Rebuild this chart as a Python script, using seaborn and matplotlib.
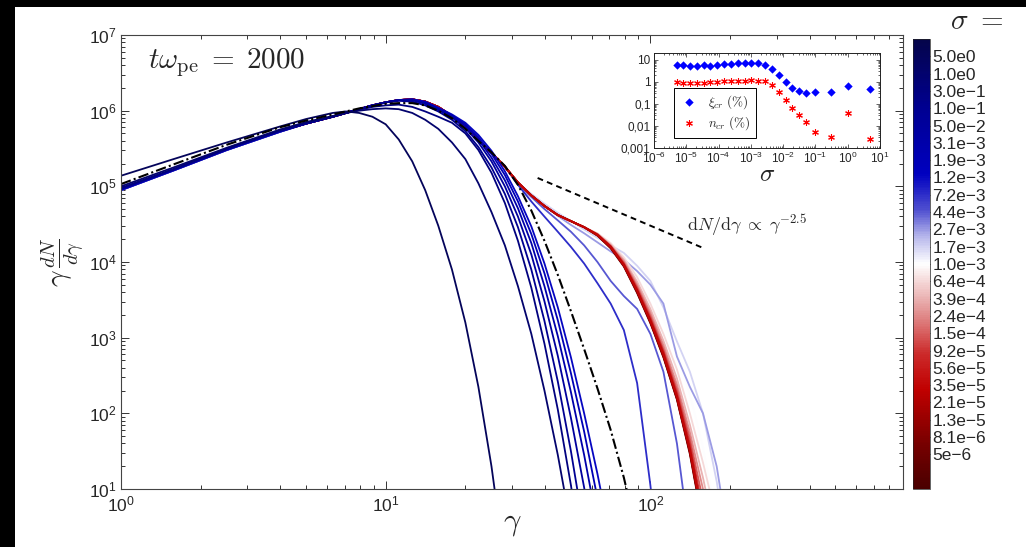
import matplotlib
matplotlib.use("Agg")
import matplotlib.pyplot as plt
from matplotlib.colors import LinearSegmentedColormap, Normalize
from matplotlib.cm import ScalarMappable
from matplotlib.ticker import LogLocator, FuncFormatter, NullFormatter
from matplotlib.patches import Rectangle
import numpy as np
import pandas as pd
import seaborn as sns

# --- data ------------------------------------------------------------------
gamma = [1.0, 1.58, 2.51, 3.98, 5.01, 6.31, 7.08, 7.94, 8.91, 10.0,
         11.2, 12.6, 14.1, 15.8, 17.8, 20.0, 22.4, 25.1, 28.2, 31.6,
         35.5, 39.8, 44.7, 50.1, 56.2, 63.1, 70.8, 79.4, 89.1, 100.0,
         112.0, 126.0, 141.0, 158.0, 178.0, 200.0]

# colorbar labels, top to bottom (as printed in the figure)
sigma_labels = ["5.0e0", "1.0e0", "3.0e-1", "1.0e-1", "5.0e-2", "3.1e-3",
                "1.9e-3", "1.2e-3", "7.2e-3", "4.4e-3", "2.7e-3", "1.7e-3",
                "1.0e-3", "6.4e-4", "3.9e-4", "2.4e-4", "1.5e-4", "9.2e-5",
                "5.6e-5", "3.5e-5", "2.1e-5", "1.3e-5", "8.1e-6", "5e-6"]

# pieces shared by the low-sigma runs (log10 of gamma dN/dgamma)
rise_bundle = [4.96, 5.22, 5.49, 5.73, 5.83, 5.92, 5.97, 6.02, 6.07, 6.11, 6.14]
peak_envelope = [6.15, 6.12, 6.05, 5.93, 5.78, 5.62, 5.44, 5.26]
red_shoulder = [5.05, 4.88, 4.74, 4.62, 4.54, 4.46]

# high-gamma tails of the red runs, from gamma = 63 on
red_tails = {
    "6.4e-4": [4.38, 4.25, 4.06, 3.80, 3.45, 3.05, 2.58, 2.00, 1.35, 0.60],
    "3.9e-4": [4.37, 4.23, 4.03, 3.74, 3.38, 2.96, 2.46, 1.85, 1.15, 0.30],
    "2.4e-4": [4.37, 4.22, 4.01, 3.70, 3.33, 2.90, 2.38, 1.75, 1.00, 0.10],
    "1.5e-4": [4.37, 4.21, 3.99, 3.67, 3.29, 2.85, 2.32, 1.67, 0.85],
    "9.2e-5": [4.36, 4.21, 3.98, 3.65, 3.26, 2.82, 2.27, 1.60, 0.72],
    "5.6e-5": [4.36, 4.20, 3.97, 3.63, 3.24, 2.80, 2.24, 1.55, 0.65],
    "3.5e-5": [4.36, 4.20, 3.96, 3.62, 3.22, 2.78, 2.22, 1.52, 0.60],
    "2.1e-5": [4.36, 4.20, 3.96, 3.62, 3.22, 2.77, 2.21, 1.50, 0.58],
    "1.3e-5": [4.35, 4.19, 3.95, 3.61, 3.21, 2.76, 2.20, 1.49, 0.56],
    "8.1e-6": [4.35, 4.19, 3.95, 3.60, 3.20, 2.75, 2.19, 1.48, 0.55],
    "5e-6":   [4.35, 4.18, 3.94, 3.59, 3.19, 2.74, 2.18, 1.46, 0.52],
}

# blue runs, full rows on the gamma grid
blue_spectra = {
    "5.0e0": [5.14, 5.36, 5.58, 5.79, 5.89, 5.97, 5.99, 5.97, 5.92, 5.82, 5.62,
              5.33, 4.95, 4.48, 3.90, 3.20, 2.35, 1.30, 0.00],
    "1.0e0": [5.00, 5.25, 5.51, 5.75, 5.85, 5.93, 5.97, 6.00, 6.02, 6.03, 6.02,
              5.97, 5.88, 5.76, 5.58, 5.36, 5.04, 4.66, 4.22, 3.68, 3.05, 2.30,
              1.45, 0.50],
    "3.0e-1": [4.98, 5.23, 5.50, 5.74, 5.84, 5.92, 5.97, 6.01, 6.05, 6.07, 6.08,
               6.05, 5.99, 5.92, 5.84, 5.70, 5.48, 5.18, 4.78, 4.28, 3.66, 2.92,
               2.05, 1.05, -0.10],
    "1.0e-1": [4.97, 5.22, 5.49, 5.73, 5.83, 5.92, 5.97, 6.02, 6.07, 6.11, 6.13,
               6.12, 6.07, 5.99, 5.88, 5.73, 5.52, 5.25, 4.90, 4.46, 3.90, 3.22,
               2.42, 1.50, 0.45],
    "5.0e-2": [4.97, 5.22, 5.49, 5.73, 5.83, 5.92, 5.97, 6.02, 6.07, 6.11, 6.14,
               6.14, 6.09, 6.01, 5.91, 5.77, 5.58, 5.33, 5.00, 4.60, 4.10, 3.48,
               2.76, 1.94, 1.02, 0.00],
    "3.1e-3": [4.96, 5.22, 5.49, 5.73, 5.83, 5.92, 5.97, 6.02, 6.07, 6.11, 6.14,
               6.14, 6.10, 6.02, 5.93, 5.80, 5.62, 5.38, 5.08, 4.71, 4.25, 3.68,
               3.02, 2.28, 1.45, 0.52],
    "1.9e-3": [4.96, 5.22, 5.49, 5.73, 5.83, 5.92, 5.97, 6.02, 6.07, 6.11, 6.14,
               6.15, 6.11, 6.03, 5.94, 5.82, 5.65, 5.43, 5.15, 4.80, 4.37, 3.85,
               3.23, 2.53, 1.76, 0.88, -0.10],
    "1.2e-3": [4.95, 5.21, 5.48, 5.72, 5.83, 5.92, 5.97, 6.02, 6.07, 6.11, 6.14,
               6.15, 6.12, 6.04, 5.95, 5.84, 5.68, 5.47, 5.20, 4.87, 4.47, 3.98,
               3.40, 2.74, 2.00, 1.20, 0.32],
    "7.2e-3": [4.95, 5.21, 5.48, 5.72, 5.83, 5.92, 5.97, 6.02, 6.07, 6.11, 6.14,
               6.15, 6.12, 6.05, 5.93, 5.78, 5.62, 5.44, 5.26, 5.02, 4.80, 4.60,
               4.40, 4.20, 3.98, 3.72, 3.45, 3.10, 2.40, 1.05, -0.50],
    "4.4e-3": [4.95, 5.21, 5.48, 5.72, 5.83, 5.92, 5.97, 6.02, 6.07, 6.11, 6.14,
               6.15, 6.12, 6.05, 5.93, 5.78, 5.62, 5.44, 5.26, 5.03, 4.86, 4.70,
               4.55, 4.40, 4.22, 4.00, 3.75, 3.55, 3.38, 3.05, 2.55, 1.60, 0.30],
    "2.7e-3": [4.95, 5.21, 5.48, 5.72, 5.83, 5.92, 5.97, 6.02, 6.07, 6.11, 6.14,
               6.15, 6.12, 6.05, 5.93, 5.78, 5.62, 5.44, 5.26, 5.04, 4.88, 4.74,
               4.61, 4.49, 4.38, 4.26, 4.14, 4.03, 3.88, 3.70, 3.45, 2.75, 2.35,
               2.00, 1.30, 0.20],
    "1.7e-3": [4.95, 5.21, 5.48, 5.72, 5.83, 5.92, 5.97, 6.02, 6.07, 6.11, 6.14,
               6.15, 6.12, 6.05, 5.93, 5.78, 5.62, 5.44, 5.26, 5.05, 4.90, 4.77,
               4.65, 4.54, 4.43, 4.32, 4.22, 4.12, 3.95, 3.75, 3.40, 2.95, 2.55,
               2.00, 1.10, 0.00],
    "1.0e-3": [4.95, 5.21, 5.48, 5.72, 5.83, 5.92, 5.97, 6.02, 6.07, 6.11, 6.14,
               6.15, 6.12, 6.05, 5.93, 5.78, 5.62, 5.44, 5.26, 5.05, 4.90, 4.76,
               4.64, 4.54, 4.45, 4.36, 4.23, 4.08, 3.88, 3.62, 3.25, 2.80, 2.25,
               1.55, 0.60],
}

# unmagnetised reference run (black dash-dot)
reference_log = [5.03, 5.29, 5.55, 5.78, 5.87, 5.95, 5.99, 6.03, 6.06, 6.09,
                 6.10, 6.10, 6.07, 6.00, 5.90, 5.76, 5.60, 5.45, 5.27, 5.02,
                 4.68, 4.28, 3.83, 3.35, 2.85, 2.33, 1.78, 1.15, 0.40]

# dN/dgamma ~ gamma^-2.5 guide line
powerlaw_gamma = [37.5, 157.0]
powerlaw_F = [1.29e5, 1.55e4]

# inset: cosmic-ray energy / number fraction vs sigma
inset_sigma = [5e-6, 8.1e-6, 1.3e-5, 2.1e-5, 3.5e-5, 5.6e-5, 9.2e-5, 1.5e-4,
               2.4e-4, 3.9e-4, 6.4e-4, 1.0e-3, 1.7e-3, 2.7e-3, 4.4e-3, 7.2e-3,
               1.2e-2, 1.9e-2, 3.1e-2, 5e-2, 1e-1, 3e-1, 1.0, 5.0]
xi_cr = [5.6, 5.6, 5.4, 5.4, 5.6, 5.4, 6.0, 6.2, 6.6, 6.9, 7.1, 7.3,
         7.1, 5.8, 3.6, 2.0, 0.97, 0.54, 0.38, 0.32, 0.34, 0.36, 0.66, 0.45]
n_cr = [0.97, 0.90, 0.90, 0.87, 0.90, 0.97, 1.0, 1.07, 1.12, 1.12, 1.12, 1.16,
        1.09, 1.09, 0.68, 0.36, 0.15, 0.068, 0.032, 0.0145, 0.0051, 0.0033,
        0.037, 0.0025]

# --- style -------------------------------------------------------------------
sns.set_style("ticks")
plt.rcParams["font.family"] = ["Liberation Sans", "DejaVu Sans"]
plt.rcParams["mathtext.fontset"] = "cm"
plt.rcParams["xtick.direction"] = "in"
plt.rcParams["ytick.direction"] = "in"

cmap = LinearSegmentedColormap.from_list("sigma", [
    (0.0, "#4a0000"), (0.1, "#780000"), (0.22, "#c00000"), (0.3, "#cc2a2a"),
    (0.4, "#e49a9a"), (0.5, "#ffffff"), (0.56, "#b8b8ec"), (0.62, "#5050d0"),
    (0.7, "#0000c0"), (0.85, "#000090"), (1.0, "#05054a")])
n_bins = 26
n_sig = len(sigma_labels)
cpos = {lab: (n_sig - 1 - i + 2) / n_bins for i, lab in enumerate(sigma_labels)}
palette = {lab: cmap(p) for lab, p in cpos.items()}
# blues: lightest first, navy on top; reds: bright red core drawn last
blue_order = sorted(blue_spectra, key=lambda l: cpos[l])
red_order = sorted(red_tails, key=lambda l: -abs(cpos[l] - 0.23))
draw_order = blue_order[:5] + red_order + blue_order[5:]

rows = []
for lab in sigma_labels:
    if lab in blue_spectra:
        vals = blue_spectra[lab]
    else:
        vals = rise_bundle + peak_envelope + red_shoulder + red_tails[lab]
    for g, v in zip(gamma, vals):
        rows.append((lab, g, 10 ** v))
df = pd.DataFrame(rows, columns=["sigma", "gamma", "F"])
df_ref = pd.DataFrame({"gamma": gamma[:len(reference_log)],
                       "F": [10 ** v for v in reference_log]})

fig = plt.figure(figsize=(10.26, 5.47), dpi=100)
ax = fig.add_axes([0.1179, 0.106, 0.7622, 0.830])

sns.lineplot(data=df, x="gamma", y="F", hue="sigma", hue_order=draw_order,
             palette=palette, estimator=None, sort=False, legend=False,
             lw=1.3, ax=ax)
sns.lineplot(data=df_ref, x="gamma", y="F", color="black", lw=1.5,
             estimator=None, sort=False, ax=ax)
ax.lines[-1].set_linestyle((0, (5, 1.5, 1, 1.5)))
sns.lineplot(x=powerlaw_gamma, y=powerlaw_F, color="black", lw=1.4,
             estimator=None, ax=ax)
ax.lines[-1].set_linestyle((0, (3, 2.2)))

ax.set_xscale("log")
ax.set_yscale("log")
ax.set_xlim(1, 900)
ax.set_ylim(10, 1e7)
fmt = FuncFormatter(lambda v, p: r"$\mathregular{10^{%d}}$" % round(np.log10(v)))
for axis in (ax.xaxis, ax.yaxis):
    axis.set_major_locator(LogLocator(base=10, numticks=12))
    axis.set_minor_locator(LogLocator(base=10, subs=np.arange(2, 10), numticks=12))
    axis.set_major_formatter(fmt)
    axis.set_minor_formatter(NullFormatter())
ax.tick_params(which="both", top=True, right=True, color="#333333", width=0.7)
ax.tick_params(which="major", length=6, labelsize=12.5, pad=3)
ax.tick_params(axis="x", which="major", pad=4)
ax.tick_params(which="minor", length=3)
for sp in ax.spines.values():
    sp.set_linewidth(0.8)
    sp.set_color("#444444")

ax.set_xlabel(r"$\gamma$", fontsize=22, labelpad=-5)
ax.set_ylabel(r"$\gamma\,\frac{dN}{d\gamma}$", fontsize=21, labelpad=2)
ax.text(0.035, 0.94, r"$t\omega_{\rm pe}\;=\;2000$", transform=ax.transAxes,
        fontsize=21, va="center")
ax.text(137, 10 ** 4.49, r"$\mathrm{d}N/\mathrm{d}\gamma\;\propto\;\gamma^{-2.5}$",
        fontsize=13, va="center")

# --- inset --------------------------------------------------------------------
axin = fig.add_axes([0.6374, 0.7294, 0.2203, 0.1737])
sns.scatterplot(x=inset_sigma, y=xi_cr, marker="D", color="#0000ff", s=18,
                linewidth=0, ax=axin, label=r"$\xi_{cr}\ (\%)$")
sns.scatterplot(x=inset_sigma, y=n_cr, marker=(6, 2, 0), color="#ff0000", s=18,
                linewidth=0.8, ax=axin, label=r"$n_{cr}\ (\%)$")
axin.set_xscale("log")
axin.set_yscale("log")
axin.set_xlim(1e-6, 10)
axin.set_ylim(1e-3, 20)
axin.set_yticks([1e-3, 1e-2, 1e-1, 1, 10])
axin.set_yticklabels(["0,001", "0,01", "0,1", "1", "10"])
axin.xaxis.set_major_locator(LogLocator(base=10, numticks=10))
axin.xaxis.set_major_formatter(fmt)
for axis in (axin.xaxis, axin.yaxis):
    axis.set_minor_locator(LogLocator(base=10, subs=np.arange(2, 10), numticks=10))
    axis.set_minor_formatter(NullFormatter())
axin.tick_params(which="both", top=True, right=True, labelsize=8.5, width=0.5)
axin.tick_params(axis="y", pad=2.5)
axin.tick_params(axis="x", pad=2)
axin.tick_params(which="major", length=3)
axin.tick_params(which="minor", length=1.5)
for sp in axin.spines.values():
    sp.set_linewidth(0.7)
    sp.set_color("#222222")
axin.set_xlabel(r"$\sigma$", fontsize=18, labelpad=-3)
leg = axin.legend(loc="lower left", bbox_to_anchor=(0.06, 0.04), frameon=True,
                  fancybox=False, edgecolor="black", framealpha=1, fontsize=9.5,
                  handletextpad=0.8, borderpad=0.4, handlelength=1.4,
                  labelspacing=0.3)
leg.get_frame().set_linewidth(0.7)

# --- colorbar -------------------------------------------------------------------
cax = fig.add_axes([0.8899, 0.106, 0.0166, 0.8227])
sm = ScalarMappable(norm=Normalize(0, n_bins), cmap=cmap)
cb = fig.colorbar(sm, cax=cax, ticks=np.arange(2, 2 + n_sig))
cb.ax.set_yticklabels([l.replace("-", "\u2212") for l in sigma_labels[::-1]])
cb.ax.tick_params(direction="in", left=True, right=True, length=3, width=0.6,
                  color="#333333", labelsize=12.5, pad=1.5)
cb.outline.set_linewidth(0.5)
fig.text(0.952, 0.962, r"$\sigma\ =$", fontsize=21, ha="center", va="center")

# black scan border (top and left)
fig.patches.append(Rectangle((0, 1 - 7 / 547), 1, 7 / 547, transform=fig.transFigure,
                             facecolor="black", edgecolor="none", zorder=10))
fig.patches.append(Rectangle((0, 0), 15 / 1026, 1, transform=fig.transFigure,
                             facecolor="black", edgecolor="none", zorder=10))

fig.savefig("out.png", dpi=100)
